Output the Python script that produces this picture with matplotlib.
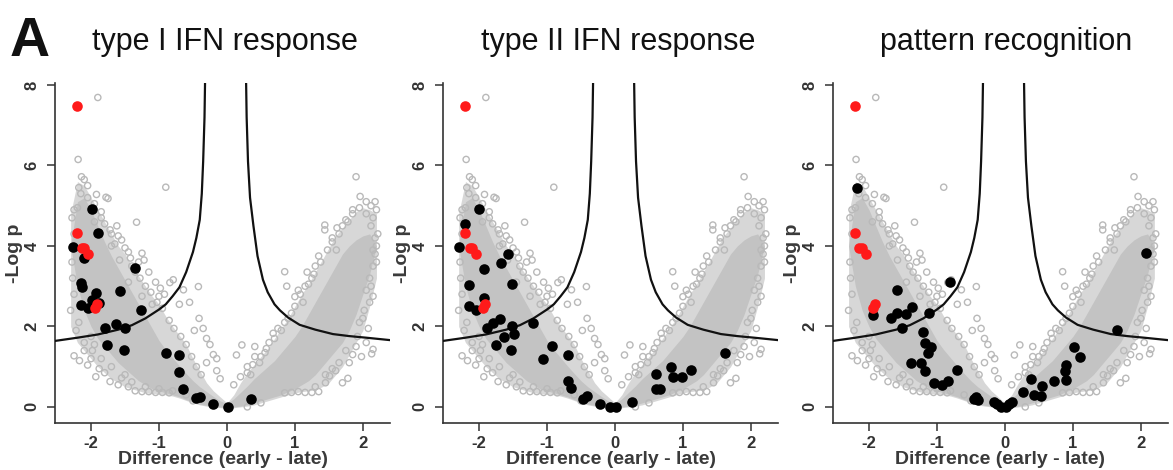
import matplotlib
matplotlib.use('Agg')
import matplotlib.pyplot as plt

plt.rcParams['font.family'] = ['Liberation Sans', 'DejaVu Sans']
plt.rcParams['axes.unicode_minus'] = False

panel_titles = ['type I IFN response', 'type II IFN response', 'pattern recognition']

# dense part of the background protein cloud (read per x step)
band_x = [-2.3, -2.2, -2.1, -2.0, -1.9, -1.8, -1.7, -1.6, -1.5, -1.4, -1.3, -1.2,
          -1.1, -1.0, -0.9, -0.8, -0.7, -0.6, -0.5, -0.4, -0.3, -0.2, -0.1, 0.0,
          0.1, 0.2, 0.3, 0.4, 0.5, 0.6, 0.7, 0.8, 0.9, 1.0, 1.1, 1.2, 1.3, 1.4,
          1.5, 1.6, 1.7, 1.8, 1.9, 2.0, 2.1, 2.2]
halo_lo = [2.0, 1.6, 1.4, 1.2, 1.0, 0.85, 0.7, 0.6, 0.5, 0.45, 0.4, 0.35,
           0.33, 0.32, 0.3, 0.27, 0.22, 0.16, 0.1, 0.05, 0.02, 0.0, -0.02, -0.03,
           -0.02, 0.0, 0.02, 0.05, 0.1, 0.15, 0.2, 0.25, 0.3, 0.35, 0.38, 0.4, 0.42, 0.5,
           0.6, 0.8, 1.0, 1.3, 1.6, 1.9, 2.5, 3.2]
halo_hi = [4.8, 5.6, 5.5, 5.2, 4.9, 4.6, 4.3, 4.0, 3.8, 3.5, 3.25, 3.0,
           2.75, 2.55, 2.25, 2.0, 1.78, 1.55, 1.2, 0.9, 0.6, 0.4, 0.25, 0.1,
           0.3, 0.6, 0.85, 1.05, 1.25, 1.45, 1.7, 1.95, 2.2, 2.5, 2.8, 3.05, 3.35, 3.65,
           3.95, 4.25, 4.45, 4.65, 4.85, 4.95, 4.9, 4.8]
core_lo = [4.0, 3.0, 2.4, 2.0, 1.7, 1.5, 1.3, 1.1, 0.95, 0.8, 0.65, 0.55,
           0.45, 0.4, 0.35, 0.3, 0.25, 0.18, 0.12, 0.07, 0.04, 0.02, 0.0, -0.02,
           0.0, 0.02, 0.05, 0.1, 0.15, 0.2, 0.25, 0.3, 0.38, 0.45, 0.55, 0.65, 0.8, 1.0,
           1.2, 1.4, 1.6, 1.9, 2.3, 2.8, 3.3, 4.0]
core_hi = [4.0, 5.1, 5.2, 4.9, 4.5, 4.1, 3.75, 3.45, 3.15, 2.85, 2.55, 2.25,
           1.95, 1.65, 1.42, 1.22, 1.02, 0.83, 0.65, 0.5, 0.38, 0.26, 0.15, 0.08,
           0.2, 0.36, 0.52, 0.7, 0.85, 1.0, 1.15, 1.35, 1.55, 1.75, 2.0, 2.3, 2.6, 2.9,
           3.2, 3.5, 3.8, 4.0, 4.15, 4.25, 4.3, 4.0]

# scattered background proteins outside / at the edge of the dense part
grey_x = [-1.90, -2.19, -2.14, -2.10, -2.05, -2.18, -1.78, -1.75, -1.92, -2.25, -2.28, -1.62,
          -1.33, -1.85, -1.70, -1.55, -1.65, -1.45, -1.25, -1.30, -1.22, -1.40, -0.90, -1.15,
          -1.05, -0.98, -0.84, -0.79, -0.64, -0.42, -0.55, -0.70, -0.92, -1.00, -0.41, -0.35,
          -0.48, -0.30, -0.25, -0.20, -0.15, -0.30,
          -2.25, -2.17, -2.05, -2.10, -2.00, -1.93, -1.88, -1.80, -1.72, -1.60, -1.55, -1.45,
          -1.35, -1.25, -1.15, -1.05, -0.95, -0.85, -2.22, -2.18, -2.30, -2.00, -1.95,
          -0.50, 0.30, 0.50, 0.22, 0.14, 0.41, 0.41, 0.56, 0.48, 0.30, 0.35, 0.20, 0.10,
          -0.10, -0.15, 0.62, 0.68, 0.75, 0.85, 0.95, 1.00, 0.88, 0.85, 1.05, 1.12, 1.15,
          1.25, 1.18, 1.30, 1.35, 1.44, 1.44, 1.61, 1.55, 1.65, 1.70, 1.78, 1.85, 1.90,
          1.96, 2.05, 2.18, 2.12, 2.20, 2.15, 2.22, 2.20, 2.18, 2.15, 2.10, 2.05, 2.10,
          2.02, 1.95, 2.15, 2.13, 1.98, 2.05, 1.90, 1.78, 1.70, 1.51, 1.60, 1.45, 1.35,
          1.25, 1.15, 1.05, 0.95, 0.85, 1.80, 1.85,
          -2.15, -2.05, -1.95, -2.20, -1.85, -1.80, -1.72, -1.95, -1.60, -1.50, -1.42, -1.35,
          -1.28, -1.20, -1.12, -1.03, -0.95, -0.85, -0.78, -0.68, -0.60, -0.52, -0.45, -0.38,
          -1.10, -1.25, -1.45, -1.58, -1.70, -2.25, -2.28, -2.27, -2.25,
          0.30, 0.38, 0.50, 0.58, 0.70, 0.80, 0.90, 1.00, 1.08, 1.20, 1.28, 1.38,
          1.48, 1.55, 1.62, 1.75, 1.85, 1.95, 2.05, 2.12, 2.18, 2.15, 2.20, 2.12,
          2.15, 2.00, 2.08, 1.92, 1.75, 1.65, 1.55, 1.45, 1.30,
          -2.10, -1.98, -1.85, -1.70, -1.50, -1.40, -1.20, -1.00, -0.80, -0.60, -0.40]
grey_y = [7.69, 6.15, 5.72, 5.65, 5.50, 5.45, 5.21, 5.18, 5.28, 4.90, 4.70, 4.50,
          4.59, 4.70, 4.30, 4.15, 4.05, 3.85, 3.82, 3.60, 3.65, 3.50, 5.46, 3.35,
          3.10, 2.95, 3.09, 3.16, 2.91, 2.99, 2.60, 2.55, 2.80, 2.75, 2.20, 1.95,
          1.90, 1.70, 1.55, 1.30, 1.20, 1.10,
          1.27, 1.15, 1.04, 1.40, 1.20, 0.75, 0.95, 0.85, 0.63, 0.55, 0.72, 0.50,
          0.40, 0.38, 0.38, 0.36, 0.36, 0.35, 1.90, 2.10, 2.40, 1.75, 1.55,
          0.15, 0.00, 0.10, 1.54, 1.29, 1.50, 1.25, 1.35, 1.10, 1.00, 0.80, 0.75, 0.55,
          0.70, 0.90, 1.60, 1.83, 1.95, 2.10, 2.33, 2.74, 3.00, 3.36, 2.90, 2.60, 3.00,
          3.20, 3.35, 3.50, 3.75, 4.40, 4.52, 3.90, 4.10, 4.30, 4.50, 4.60, 4.80, 5.72,
          5.23, 5.10, 5.10, 5.00, 4.90, 4.70, 4.30, 4.00, 3.80, 3.50, 3.20, 2.90, 2.60,
          2.40, 2.10, 1.43, 1.32, 1.25, 1.60, 1.50, 0.71, 0.60, 0.77, 0.90, 0.60, 0.38,
          0.36, 0.36, 0.38, 0.36, 0.35, 1.10, 1.30,
          5.30, 5.20, 5.05, 4.95, 4.85, 4.55, 4.40, 4.60, 4.25, 3.95, 3.70, 3.35,
          3.20, 3.00, 2.85, 2.60, 2.45, 2.15, 1.95, 1.75, 1.55, 1.25, 1.00, 0.80,
          2.55, 2.75, 3.10, 3.65, 4.00, 4.30, 3.60, 3.20, 2.80,
          0.85, 1.05, 1.25, 1.45, 1.70, 1.90, 2.20, 2.50, 2.80, 3.05, 3.30, 3.60,
          3.90, 4.20, 4.45, 4.65, 4.90, 4.95, 4.80, 4.50, 4.20, 3.90, 3.60, 3.00,
          2.75, 2.20, 1.95, 1.75, 1.40, 1.10, 0.95, 0.80, 0.50,
          1.60, 1.40, 1.20, 1.00, 0.80, 0.62, 0.50, 0.45, 0.40, 0.30, 0.20]

# significance threshold curve
curve_left_x = [-2.53, -2.2, -1.9, -1.6, -1.4, -1.2, -1.0, -0.9, -0.8, -0.7, -0.6, -0.5,
                -0.45, -0.4, -0.37, -0.35, -0.33, -0.32]
curve_left_y = [1.64, 1.72, 1.80, 1.92, 2.03, 2.20, 2.42, 2.55, 2.75, 2.97, 3.35, 3.85,
                4.20, 4.65, 5.30, 6.10, 7.20, 8.30]
curve_right_x = [0.28, 0.29, 0.31, 0.34, 0.39, 0.45, 0.53, 0.60, 0.70, 0.78, 0.90, 1.07,
                 1.30, 1.56, 1.80, 2.05, 2.40]
curve_right_y = [8.30, 7.20, 6.10, 5.20, 4.50, 3.75, 3.16, 2.85, 2.55, 2.40, 2.22, 2.04,
                 1.92, 1.81, 1.76, 1.72, 1.66]

# red proteins (same in every panel)
red_x = [-2.21, -2.20, -2.14, -2.10, -2.04, -1.94, -1.91]
red_y = [7.48, 4.33, 3.96, 3.95, 3.80, 2.45, 2.56]

# black proteins per panel
black1_x = [-1.99, -1.90, -2.27, -2.11, -2.15, -2.14, -2.15, -2.04, -1.99, -1.92, -1.89, -1.35,
            -1.57, -1.27, -1.79, -1.63, -1.50, -1.76, -1.52, -0.90, -0.70, -0.71, -0.65, -0.45,
            -0.40, -0.20, 0.01, 0.35]
black1_y = [4.92, 4.31, 3.97, 3.69, 3.09, 2.99, 2.53, 2.45, 2.66, 2.82, 2.58, 3.45,
            2.88, 2.41, 1.95, 2.05, 1.97, 1.54, 1.42, 1.35, 1.29, 0.87, 0.44, 0.22,
            0.24, 0.07, 0.01, 0.20]
black2_x = [-2.00, -2.20, -2.29, -1.57, -1.67, -1.93, -1.51, -2.15, -2.15, -2.04, -1.93, -1.89,
            -1.79, -1.69, -1.51, -1.48, -1.64, -1.75, -1.53, -1.20, -1.06, -0.92, -0.69, -0.69,
            -0.65, -0.47, -0.41, -0.22, -0.08, 0.02, 0.25, 0.60, 0.61, 0.67, 0.83, 0.85,
            0.98, 1.12, 1.62]
black2_y = [4.92, 4.55, 3.97, 3.80, 3.57, 3.42, 3.05, 3.03, 2.52, 2.41, 2.70, 1.95,
            2.08, 2.18, 2.00, 1.81, 1.73, 1.54, 1.42, 2.08, 1.19, 1.52, 1.29, 0.65,
            0.46, 0.19, 0.26, 0.07, 0.00, 0.00, 0.13, 0.81, 0.44, 0.44, 0.99, 0.74,
            0.74, 0.92, 1.35]
black3_x = [-2.17, -1.94, -1.59, -1.67, -1.59, -1.45, -1.36, -1.51, -1.11, -0.81, -1.21, -1.17,
            -1.08, -1.13, -1.38, -1.23, -1.18, -1.04, -0.93, -0.84, -0.70, -0.43, -0.40, -0.45,
            -0.16, -0.11, -0.06, 0.01, 0.06, 0.11, 0.26, 0.38, 0.43, 0.53, 0.54, 0.73,
            0.88, 0.90, 0.90, 1.02, 1.11, 1.65, 2.08]
black3_y = [5.43, 2.29, 2.91, 2.20, 2.33, 2.31, 2.49, 1.97, 2.34, 3.11, 1.85, 1.58,
            1.50, 1.33, 1.10, 1.08, 0.90, 0.59, 0.55, 0.65, 0.92, 0.24, 0.17, 0.19,
            0.13, 0.07, 0.01, 0.01, 0.07, 0.13, 0.36, 0.69, 0.30, 0.26, 0.51, 0.65,
            0.88, 1.04, 0.67, 1.48, 1.25, 1.91, 3.83]
black_x = [black1_x, black2_x, black3_x]
black_y = [black1_y, black2_y, black3_y]

fig = plt.figure(figsize=(11.73, 4.70), dpi=100)
lefts = [0.0469, 0.3777, 0.7101]
title_x = [0.192, 0.527, 0.858]

for i in range(3):
    ax = fig.add_axes([lefts[i], 0.10, 0.2856, 0.7234])

    # background cloud
    ax.fill_between(band_x, halo_lo, halo_hi, color='#d7d7d7', lw=0, zorder=1)
    ax.fill_between(band_x, core_lo, core_hi, color='#c3c3c3', lw=0, zorder=1)
    ax.scatter(grey_x, grey_y, s=20, facecolors='none', edgecolors='#b9b9b9',
               linewidths=1.0, zorder=2)

    # threshold
    ax.plot(curve_left_x, curve_left_y, color='#111111', lw=1.6, zorder=3)
    ax.plot(curve_right_x, curve_right_y, color='#111111', lw=1.6, zorder=3)

    ax.scatter(black_x[i], black_y[i], s=58, color='black', lw=0, zorder=4)
    ax.scatter(red_x, red_y, s=58, color='#ff1a1a', lw=0, zorder=5)

    ax.set_xlim(-2.53, 2.40)
    ax.set_ylim(-0.40, 8.05)
    ax.set_xticks([-2, -1, 0, 1, 2])
    ax.set_yticks([0, 2, 4, 6, 8])
    for side in ['top', 'right']:
        ax.spines[side].set_visible(False)
    for side in ['left', 'bottom']:
        ax.spines[side].set_color('#333333')
        ax.spines[side].set_linewidth(1.2)
    ax.tick_params(direction='out', length=6, width=1.1, color='#333333',
                   labelsize=12, labelcolor='#333333')
    ax.tick_params(axis='y', pad=5)
    for lab in ax.get_xticklabels() + ax.get_yticklabels():
        lab.set_fontweight('bold')
    for lab in ax.get_yticklabels():
        lab.set_rotation(90)
        lab.set_va('center')
    ax.set_xlabel('Difference (early - late)', fontsize=14, fontweight='bold',
                  color='#3a3a3a', labelpad=0)
    ax.set_ylabel('-Log p', fontsize=14, fontweight='bold', color='#3a3a3a', labelpad=1)

    fig.text(title_x[i], 0.91, panel_titles[i], fontsize=22, ha='center', va='center',
             color='#111111')

fig.text(0.008, 0.965, 'A', fontsize=40, fontweight='bold', va='top', color='#111111')

plt.savefig('out.png', dpi=100)
